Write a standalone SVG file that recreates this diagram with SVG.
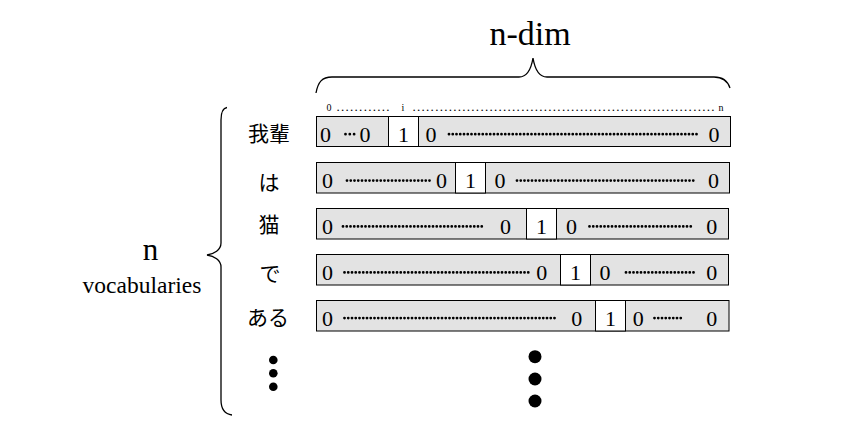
<svg xmlns="http://www.w3.org/2000/svg" width="860" height="435" viewBox="0 0 860 435" font-family="'Liberation Serif', serif">
<style>
text.t{font-family:'Liberation Serif', serif;fill:#000}
.d{font-size:22px}
.x{font-size:10px}
.p{font-size:13px}
.m{text-anchor:middle}
.e{text-anchor:end}
text.j{font-family:'Noto Sans CJK JP', 'Noto Sans CJK SC', sans-serif;font-size:21px;text-anchor:middle;fill:#000}
.g{fill:#e3e3e3;stroke:#000;stroke-width:1}
.w{fill:#fff;stroke:#000;stroke-width:1}
.br{fill:none;stroke:#000;stroke-width:1.3}
.dl{fill:none;stroke:#000;stroke-width:2.8;stroke-linecap:round;stroke-dasharray:0 3.75}
.dl3{fill:none;stroke:#000;stroke-width:2.8;stroke-linecap:round;stroke-dasharray:0 4.3}
</style>
<rect width="860" height="435" fill="#fff"/>

<g id="braces">
<path class="br" d="M316,93 C318,82 322,77 332,77 L519,77 C527,77 531,70 533,58 C535,70 539,77 547,77 L714,77 C724,77 728,82 730,88"/>
<path class="br" d="M227,107.5 C223,108 221,112 221,120 L221,243 C221,250 214,254 207,255 C214,256 221,260 221,267 L221,400 C221,410 225,414 232,415"/>
</g>

<g id="title">
<text class="t m" x="530" y="45" font-size="34">n-dim</text>
</g>

<g id="index">
<text class="t x m" x="329" y="111">0</text>
<text class="t p" x="336.5" y="111" textLength="53" lengthAdjust="spacing">............</text>
<text class="t x m" x="403" y="111">i</text>
<text class="t p" x="412.5" y="111" textLength="302" lengthAdjust="spacing">...................................................................</text>
<text class="t x m" x="721" y="111">n</text>
</g>

<g id="vocab-label">
<text class="t m" x="150.5" y="260" font-size="31">n</text>
<text class="t m" x="142" y="293" font-size="23.5">vocabularies</text>
</g>

<g id="words">
<text class="j" x="269" y="141">我輩</text>
<text class="j" x="269" y="190">は</text>
<text class="j" x="269" y="232">猫</text>
<text class="j" x="270" y="281">で</text>
<text class="j" x="268" y="325">ある</text>
<circle cx="273.3" cy="360" r="4.3"/>
<circle cx="273.3" cy="373.3" r="4.3"/>
<circle cx="273.3" cy="386.7" r="4.3"/>
</g>

<g id="row1">
<rect class="g" x="316.5" y="116.5" width="414" height="30"/>
<rect class="w" x="388.5" y="116.5" width="30" height="30"/>
<text class="t d" x="320" y="141.5">0</text>
<path class="dl3" d="M345.5,134.2 H354.2"/>
<text class="t d" x="359.5" y="141.5">0</text>
<text class="t d m" x="403.5" y="141.5">1</text>
<text class="t d" x="425.5" y="141.5">0</text>
<path class="dl" d="M449,134.2 H697"/>
<text class="t d e" x="719.5" y="141.5">0</text>
</g>

<g id="row2">
<rect class="g" x="316.5" y="162.5" width="413" height="30.5"/>
<rect class="w" x="455.5" y="162.5" width="30" height="30.5"/>
<text class="t d" x="322" y="188">0</text>
<path class="dl" d="M347,180.6 H431"/>
<text class="t d" x="436" y="188">0</text>
<text class="t d m" x="470.5" y="188">1</text>
<text class="t d" x="494.5" y="188">0</text>
<path class="dl" d="M517,180.6 H697"/>
<text class="t d e" x="719" y="188">0</text>
</g>

<g id="row3">
<rect class="g" x="316.5" y="208.5" width="412" height="30.5"/>
<rect class="w" x="526.5" y="208.5" width="30" height="30.5"/>
<text class="t d" x="322" y="233.8">0</text>
<path class="dl" d="M343,226.4 H484"/>
<text class="t d" x="500" y="233.8">0</text>
<text class="t d m" x="541.5" y="233.8">1</text>
<text class="t d" x="566" y="233.8">0</text>
<path class="dl" d="M589.5,226.4 H692"/>
<text class="t d e" x="717.2" y="233.8">0</text>
</g>

<g id="row4">
<rect class="g" x="316.5" y="254.5" width="412" height="30.5"/>
<rect class="w" x="560.5" y="254.5" width="30" height="30.5"/>
<text class="t d" x="322" y="279.8">0</text>
<path class="dl" d="M344.5,272.4 H529"/>
<text class="t d" x="536.2" y="279.8">0</text>
<text class="t d m" x="575.5" y="279.8">1</text>
<text class="t d" x="599.5" y="279.8">0</text>
<path class="dl" d="M626,272.4 H694"/>
<text class="t d e" x="717.2" y="279.8">0</text>
</g>

<g id="row5">
<rect class="g" x="316.5" y="300.5" width="412.5" height="30.5"/>
<rect class="w" x="595.5" y="300.5" width="30" height="30.5"/>
<text class="t d" x="322" y="325.5">0</text>
<path class="dl" d="M344.5,318.1 H556"/>
<text class="t d" x="571.2" y="325.5">0</text>
<text class="t d m" x="610.5" y="325.5">1</text>
<text class="t d" x="632.8" y="325.5">0</text>
<path class="dl" d="M654.5,318.1 H683"/>
<text class="t d e" x="717.2" y="325.5">0</text>
</g>

<g id="more">
<circle cx="535" cy="356.7" r="6.5"/>
<circle cx="535" cy="379" r="6.5"/>
<circle cx="535" cy="401" r="6.5"/>
</g>
</svg>
